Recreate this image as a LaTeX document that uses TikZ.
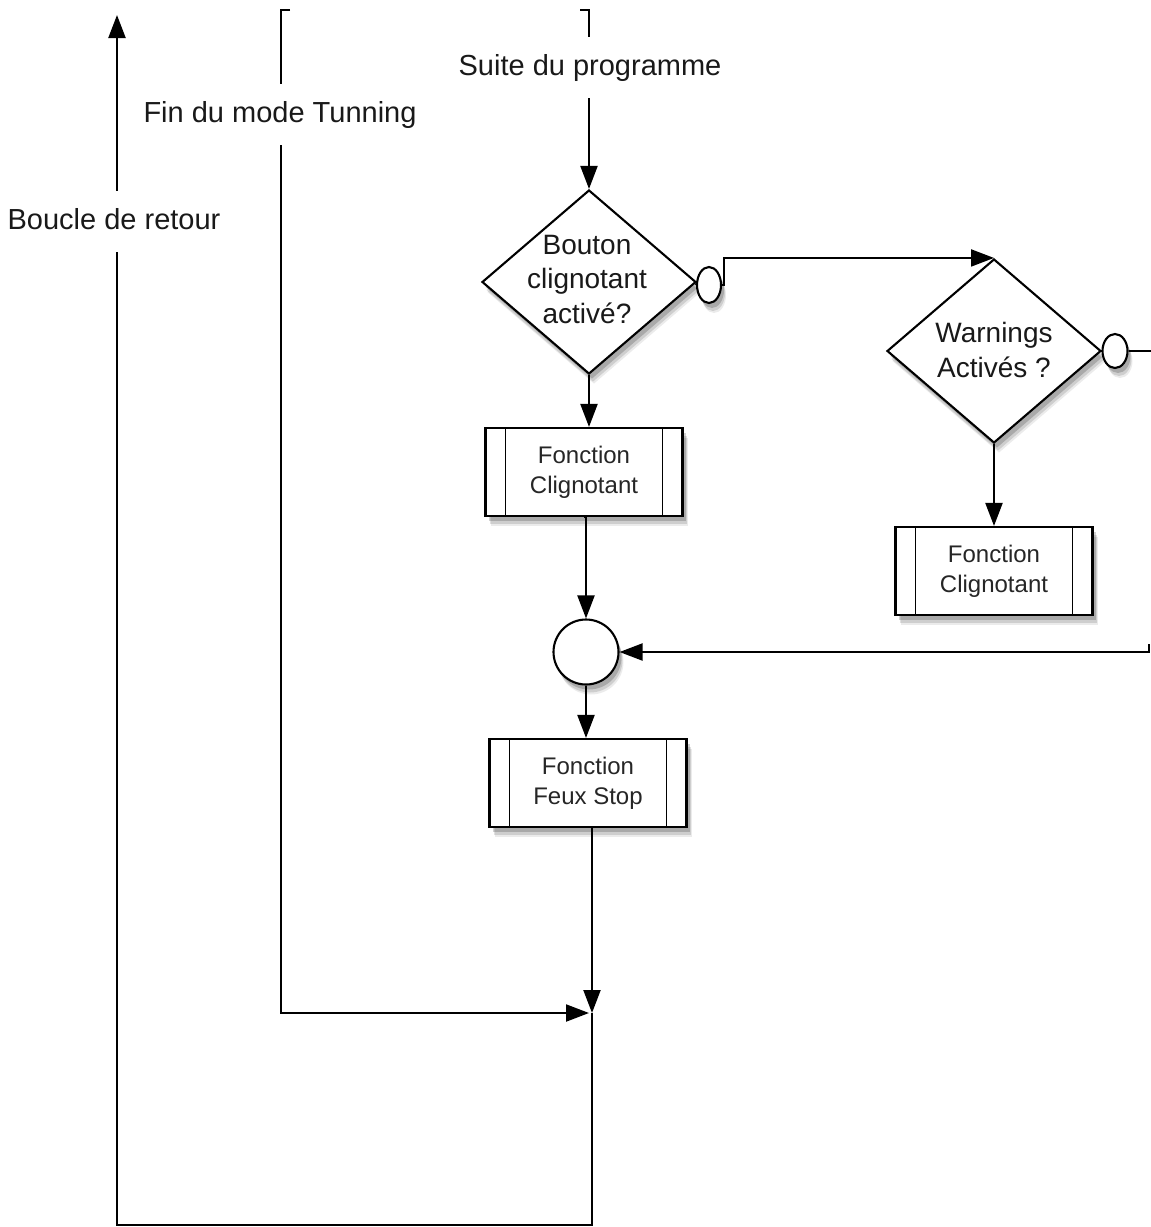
\documentclass[tikz,border=0pt]{standalone}
\usepackage{fontspec}
\setmainfont{Liberation Sans}
\usetikzlibrary{shapes.geometric,arrows.meta,shadows}
\begin{document}
\begin{tikzpicture}[x=1pt,y=-1pt,line width=2.1pt,
  arr/.style={-{Triangle[length=23pt,width=17pt]}},
  shad/.style={
    drop shadow={shadow xshift=5pt,shadow yshift=-10pt,opacity=0.08,fill=black},
    drop shadow={shadow xshift=4pt,shadow yshift=-8pt,opacity=0.12,fill=black},
    drop shadow={shadow xshift=3pt,shadow yshift=-5pt,opacity=0.18,fill=black}},
  dia/.style={diamond,draw,fill=white,shad,minimum width=214pt,minimum height=184pt,inner sep=0pt},
  dtext/.style={align=center,font=\fontsize{28}{34.5}\selectfont,text=black!90,inner sep=0pt},
  oval/.style={ellipse,draw,fill=white,shad,minimum width=24pt,minimum height=36pt,inner sep=0pt},
  joint/.style={circle,draw,fill=white,shad,minimum size=65pt,inner sep=0pt},
  fbox/.style={rectangle,draw,fill=white,shad,minimum width=197pt,minimum height=88pt,
    align=center,font=\fontsize{24}{30}\selectfont,text=black!85,
    path picture={\draw[line width=1.8pt]
      ([xshift=20pt]path picture bounding box.north west) -- ([xshift=20pt]path picture bounding box.south west)
      ([xshift=-20pt]path picture bounding box.north east) -- ([xshift=-20pt]path picture bounding box.south east);}},
  lbl/.style={font=\fontsize{29}{34}\selectfont,text=black!90,anchor=base,
    text height=22pt,text depth=7pt,inner ysep=15pt,inner xsep=0pt}
]
\useasboundingbox (0,0) rectangle (1151,1227);

% nodes
\node[dia] (d1) at (589,282) {};
\node[dtext] (t1) at (587,279) {Bouton\\clignotant\\activé?};
\node[oval] (e1) at (709,285) {};
\node[dia] (d2) at (994,351) {};
\node[dtext] (t2) at (994,350) {Warnings\\Activés ?};
\node[oval,minimum width=25pt,minimum height=34pt] (e2) at (1115,351) {};
\node[fbox] (b1) at (584,472) {Fonction\\Clignotant};
\node[fbox] (b2) at (994,571) {Fonction\\Clignotant};
\node[joint] (j) at (586,652) {};
\node[fbox] (b3) at (588,783) {Fonction\\Feux Stop};

% labels on lines
\node[lbl] (boucle) at (114,229) {Boucle de retour};
\node[lbl] (fin) at (280,122) {Fin du mode Tunning};
\node[lbl] (suite) at (590,75) {Suite du programme};

% coordinates
\coordinate (tunTop) at (281,10);
\coordinate (suiteTop) at (589,10);
\coordinate (merge) at (592,1013);
\coordinate (botR) at (592,1225);
\coordinate (botL) at (117,1225);
\coordinate (loopTop) at (117,15);
\coordinate (rightOut) at (1151,351);
\coordinate (rightIn) at (1149,652);

% top entries
\draw ([xshift=9pt]tunTop) -- (tunTop) -- (tunTop |- fin.north);
\draw[arr] (tunTop |- fin.south) -- (tunTop |- merge) -- ([xshift=-3pt]merge);
\draw ([xshift=-9pt]suiteTop) -- (suiteTop) -- (suiteTop |- suite.north);
\draw[arr] (suiteTop |- suite.south) -- (d1.north);

% first decision
\draw[arr] (d1.south) -- (d1.south |- b1.north);
\draw (d1.east) -- (e1.west);
\draw[arr] (e1.east) -- ++(2,0) |- (d2.north);
\draw[arr] (b1.south) -- (b1.south -| j.north) -- (j.north);

% second decision
\draw[arr] (d2.south) -- (d2.south |- b2.north);
\draw (d2.east) -- (e2.west);
\draw (e2.east) -- (rightOut);
\draw[arr] ([yshift=8pt]rightIn) -- (rightIn) -- (j.east);

% to stop lights and loop
\draw[arr] (j.south) -- (j.south |- b3.north);
\draw[arr] (b3.south -| merge) -- (merge);
\draw (merge) -- (botR) -- (botL) -- (botL |- boucle.south);
\draw[arr] (botL |- boucle.north) -- (loopTop);
\end{tikzpicture}
\end{document}
